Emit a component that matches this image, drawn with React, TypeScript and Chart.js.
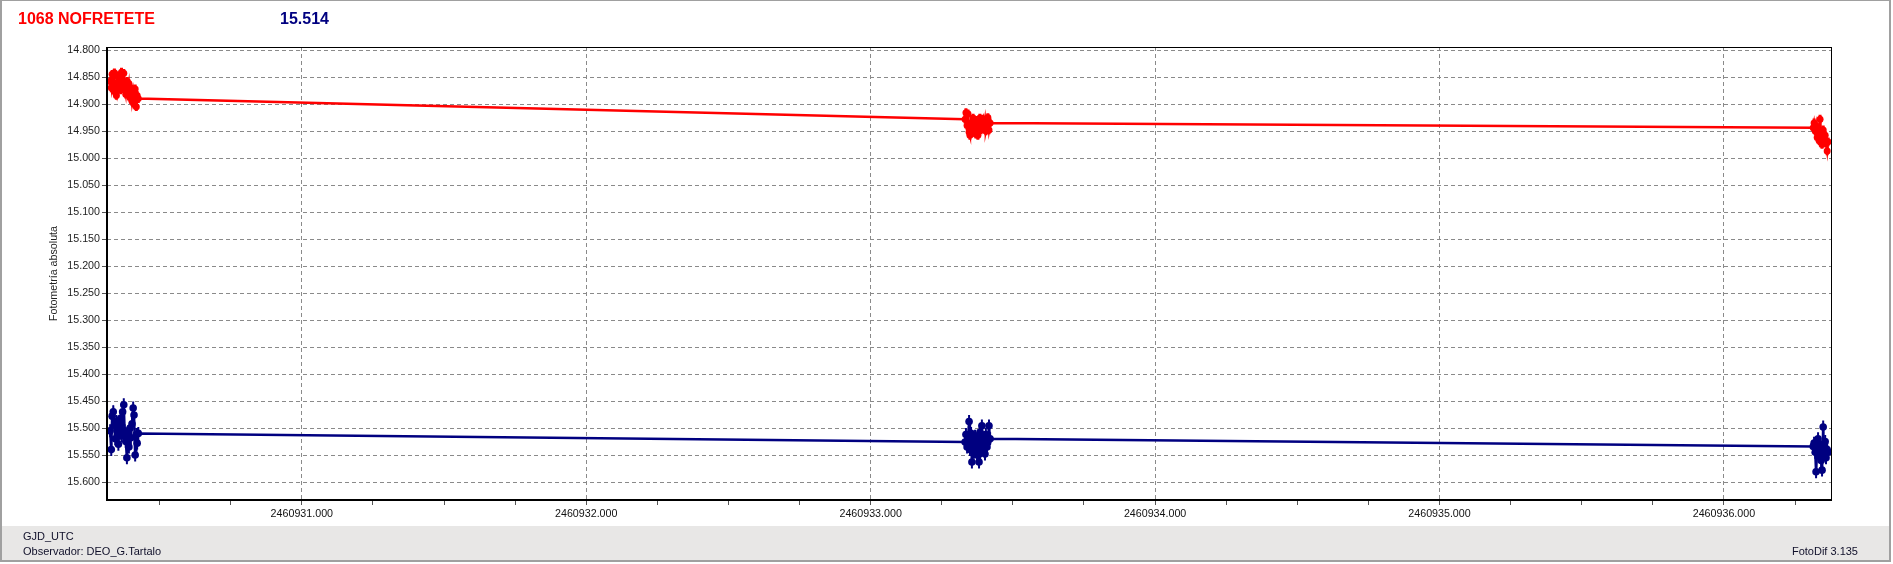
import React, { useEffect, useRef } from 'react';
import { Chart, registerables } from 'chart.js';

Chart.register(...registerables);

const starName = '1068 NOFRETETE';
const compMag = '15.514';
const yAxisTitle = 'Fotometría absoluta';
const xAxisName = 'GJD_UTC';
const observer = 'Observador: DEO_G.Tartalo';
const software = 'FotoDif 3.135';

// Observation times (GJD_UTC)
const times: number[] = [
  2460930.326, 2460930.330, 2460930.333, 2460930.337, 2460930.341, 2460930.344, 2460930.348,
  2460930.352, 2460930.355, 2460930.359, 2460930.363, 2460930.366, 2460930.370, 2460930.374,
  2460930.377, 2460930.381, 2460930.385, 2460930.388, 2460930.392, 2460930.396, 2460930.399,
  2460930.403, 2460930.407, 2460930.410, 2460930.414, 2460930.418, 2460930.421, 2460930.425,
  2460933.332, 2460933.335, 2460933.339, 2460933.342, 2460933.346, 2460933.349, 2460933.353,
  2460933.356, 2460933.360, 2460933.363, 2460933.367, 2460933.370, 2460933.374, 2460933.377,
  2460933.381, 2460933.384, 2460933.388, 2460933.391, 2460933.395, 2460933.398, 2460933.402,
  2460933.405, 2460933.409, 2460933.412, 2460933.416, 2460933.420,
  2460936.314, 2460936.317, 2460936.321, 2460936.324, 2460936.328, 2460936.331, 2460936.335,
  2460936.338, 2460936.342, 2460936.345, 2460936.349, 2460936.352, 2460936.356, 2460936.359,
  2460936.363, 2460936.366,
];

// Variable star magnitudes (red)
const redMag: number[] = [
  14.858, 14.870, 14.845, 14.862, 14.842, 14.878, 14.884, 14.848, 14.866, 14.853, 14.874, 14.841,
  14.860, 14.843, 14.870, 14.882, 14.858, 14.876, 14.862, 14.888, 14.870, 14.895, 14.880, 14.900,
  14.872, 14.905, 14.884, 14.890,
  14.928, 14.916, 14.940, 14.918, 14.952, 14.958, 14.935, 14.945, 14.926, 14.950, 14.938, 14.956,
  14.930, 14.958, 14.942, 14.926, 14.948, 14.935, 14.928, 14.945, 14.930, 14.950, 14.940, 14.925,
  14.948, 14.935,
  14.944, 14.935, 14.950, 14.940, 14.962, 14.945, 14.968, 14.928, 14.955, 14.975, 14.948, 14.965,
  14.958, 14.972, 14.987, 14.970,
];

// Comparison star magnitudes (navy)
const blueMag: number[] = [
  15.505, 15.540, 15.478, 15.470, 15.495, 15.520, 15.488, 15.512, 15.530, 15.498, 15.482, 15.515,
  15.470, 15.457, 15.505, 15.525, 15.555, 15.510, 15.535, 15.500, 15.518, 15.492, 15.463, 15.476,
  15.550, 15.512, 15.528, 15.510,
  15.526, 15.512, 15.535, 15.520, 15.488, 15.540, 15.510, 15.563, 15.530, 15.545, 15.515, 15.538,
  15.550, 15.525, 15.563, 15.508, 15.542, 15.496, 15.530, 15.518, 15.548, 15.512, 15.535, 15.525,
  15.496, 15.520,
  15.534, 15.528, 15.545, 15.581, 15.540, 15.520, 15.552, 15.530, 15.560, 15.578, 15.498, 15.548,
  15.525, 15.555, 15.540, 15.545,
];

const redErr = 0.008;
const blueErr = 0.012;

const yTickValues: number[] = [
  14.8, 14.85, 14.9, 14.95, 15.0, 15.05, 15.1, 15.15, 15.2, 15.25, 15.3, 15.35, 15.4, 15.45,
  15.5, 15.55, 15.6,
];
const xFirstTick = 2460930.5;
const xTickStep = 0.25;
const xMin = 2460930.315;
const xMax = 2460936.38;
const yMin = 14.7944;
const yMax = 15.6333;

const FONT = '"Liberation Sans", Arial, sans-serif';
const RED = '#ff0000';
const NAVY = '#000080';

const errorBarPlugin = {
  id: 'errorBars',
  beforeDatasetsDraw(chart: any) {
    const { ctx, scales, chartArea } = chart;
    const xs = scales.x;
    const ys = scales.y;
    ctx.save();
    ctx.beginPath();
    ctx.rect(chartArea.left, chartArea.top, chartArea.right - chartArea.left, chartArea.bottom - chartArea.top);
    ctx.clip();
    chart.data.datasets.forEach((ds: any) => {
      ctx.strokeStyle = ds.borderColor;
      ctx.lineWidth = ds.errorWidth || 2;
      ctx.beginPath();
      ds.data.forEach((p: any) => {
        const px = xs.getPixelForValue(p.x);
        ctx.moveTo(px, ys.getPixelForValue(p.y - p.e));
        ctx.lineTo(px, ys.getPixelForValue(p.y + p.e));
      });
      ctx.stroke();
    });
    ctx.restore();
  },
};

const framePlugin = {
  id: 'frame',
  afterDraw(chart: any) {
    const { ctx, chartArea } = chart;
    const { left, right, top, bottom } = chartArea;
    ctx.save();
    ctx.fillStyle = '#000';
    ctx.fillRect(left - 1, top, 2, bottom - top + 1);
    ctx.fillRect(left - 1, bottom - 1, right - left + 1, 2);
    ctx.fillRect(left - 1, top, right - left + 1, 1);
    ctx.fillRect(right - 1, top, 1, bottom - top + 1);
    ctx.restore();
  },
};

export default function App() {
  const ref = useRef<HTMLCanvasElement>(null);

  useEffect(() => {
    document.body.style.margin = '0';
    document.body.style.overflow = 'hidden';
    const canvas = ref.current!;
    const mk = (mags: number[], err: number) => times.map((t, i) => ({ x: t, y: mags[i], e: err }));
    const chart = new Chart(canvas, {
      type: 'scatter',
      data: {
        datasets: [
          {
            label: starName,
            data: mk(redMag, redErr) as any,
            borderColor: RED,
            backgroundColor: RED,
            pointBackgroundColor: RED,
            pointBorderWidth: 0,
            pointRadius: 3.5,
            showLine: true,
            borderWidth: 2.5,
            tension: 0,
            errorWidth: 3,
          },
          {
            label: compMag,
            data: mk(blueMag, blueErr) as any,
            borderColor: NAVY,
            backgroundColor: NAVY,
            pointBackgroundColor: NAVY,
            pointBorderWidth: 0,
            pointRadius: 3.8,
            showLine: true,
            borderWidth: 2.5,
            tension: 0,
            errorWidth: 2,
          },
        ] as any,
      },
      options: {
        responsive: false,
        animation: false,
        devicePixelRatio: 1,
        layout: { padding: { left: 0, right: 61, top: 47, bottom: 38 } },
        plugins: { legend: { display: false }, tooltip: { enabled: false } },
        scales: {
          x: {
            type: 'linear',
            min: xMin,
            max: xMax,
            afterBuildTicks: (s: any) => {
              const arr: { value: number }[] = [];
              for (let v = xFirstTick; v <= xMax; v += xTickStep) arr.push({ value: v });
              s.ticks = arr;
            },
            afterFit: (s: any) => {
              s.height = 26;
            },
            ticks: {
              callback: (v: any) => (Number.isInteger(Number(v)) ? Number(v).toFixed(3) : ''),
              autoSkip: false,
              maxRotation: 0,
              minRotation: 0,
              padding: 3,
              color: '#111',
              font: { family: FONT, size: 10.7 },
            },
            grid: {
              color: (c: any) => (c.tick && Number.isInteger(c.tick.value) ? '#8a8a8a' : 'rgba(0,0,0,0)'),
              lineWidth: 1,
              tickLength: 5,
              tickColor: '#555',
              tickBorderDash: [],
            },
            border: { display: false, dash: [4, 3] },
          },
          y: {
            type: 'linear',
            reverse: true,
            min: yMin,
            max: yMax,
            afterBuildTicks: (s: any) => {
              s.ticks = yTickValues.map((v) => ({ value: v }));
            },
            afterFit: (s: any) => {
              s.width = 107;
            },
            ticks: {
              callback: (v: any) => Number(v).toFixed(3),
              autoSkip: false,
              padding: 2,
              color: '#1e1e1e',
              font: { family: FONT, size: 10.7 },
            },
            grid: {
              color: '#8a8a8a',
              lineWidth: 1,
              tickLength: 5,
              tickColor: '#555',
              tickBorderDash: [],
            },
            border: { display: false, dash: [4, 3] },
            title: {
              display: true,
              text: yAxisTitle,
              color: '#1e1e1e',
              font: { family: FONT, size: 10.7 },
              padding: { top: 48, bottom: 0 },
            },
          },
        },
      } as any,
      plugins: [errorBarPlugin, framePlugin],
    });
    return () => chart.destroy();
  }, []);

  const footerText: React.CSSProperties = {
    position: 'absolute',
    fontFamily: FONT,
    fontSize: 11,
    lineHeight: '13px',
    color: '#10102a',
    whiteSpace: 'nowrap',
  };
  const titleText: React.CSSProperties = {
    position: 'absolute',
    top: 11,
    fontFamily: FONT,
    fontSize: 16,
    fontWeight: 'bold',
    lineHeight: '16px',
    whiteSpace: 'nowrap',
  };

  return (
    <div style={{ position: 'relative', width: 1893, height: 564, background: '#fff', overflow: 'hidden' }}>
      <div style={{ position: 'absolute', left: 2, top: 526, width: 1887, height: 34, background: '#e8e7e6' }} />
      <div
        style={{
          position: 'absolute',
          left: 0,
          top: 0,
          width: 1891,
          height: 562,
          boxSizing: 'border-box',
          borderLeft: '2px solid #a0a0a0',
          borderTop: '1px solid #a0a0a0',
          borderRight: '2px solid #a0a0a0',
          borderBottom: '2px solid #a0a0a0',
        }}
      />
      <canvas ref={ref} width={1893} height={564} style={{ position: 'absolute', left: 0, top: 0, display: 'block' }} />
      <div style={{ ...titleText, left: 18, color: RED }}>{starName}</div>
      <div style={{ ...titleText, left: 280, color: NAVY }}>{compMag}</div>
      <div style={{ ...footerText, left: 23, top: 530 }}>{xAxisName}</div>
      <div style={{ ...footerText, left: 23, top: 545 }}>{observer}</div>
      <div style={{ ...footerText, right: 35, top: 545 }}>{software}</div>
    </div>
  );
}
